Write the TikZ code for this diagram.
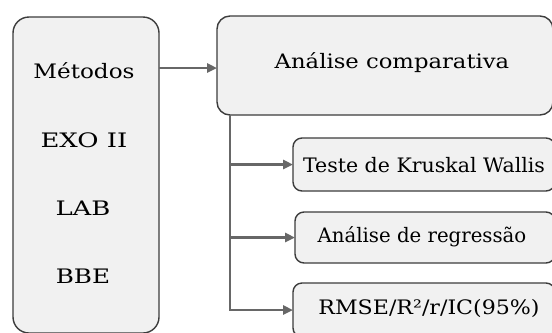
\documentclass[tikz,border=0pt]{standalone}
\usepackage{fontspec}
\setmainfont{DejaVu Serif}
\usetikzlibrary{arrows.meta}
\definecolor{boxfill}{HTML}{F1F1F1}
\definecolor{boxline}{HTML}{3C3C3C}
\definecolor{connc}{HTML}{676767}
\begin{document}
\begin{tikzpicture}[x=1bp,y=-1bp,
  box/.style={draw=boxline, fill=boxfill, line width=1.4bp, inner sep=0pt, outer sep=0pt, anchor=north west},
  lbl/.style={font=\fontsize{20}{24}\selectfont, inner sep=0pt, text=black},
  conn/.style={draw=connc, line width=2.8bp, -{Triangle[length=10bp,width=9bp]}}]
\useasboundingbox[fill=white] (0,0) rectangle (552,332);
% boxes
\node[box, rounded corners=16bp, minimum width=146bp, minimum height=316bp] (mbox) at (13,17) {};
\node[box, rounded corners=13bp, minimum width=336bp, minimum height=99bp] (cbox) at (217,16) {};
\node[box, rounded corners=9bp, minimum width=262bp, minimum height=53bp] (b1) at (293,138) {};
\node[box, rounded corners=9bp, minimum width=260bp, minimum height=51bp] (b2) at (295,212) {};
\node[box, rounded corners=9bp, minimum width=262bp, minimum height=54bp] (b3) at (293,283) {};
% texts
\node[lbl] (t1) at (84,71) {\scalebox{1.16}[1]{Métodos}};
\node[lbl] (t2) at (84,140) {\scalebox{1.3}[1]{EXO II}};
\node[lbl] (t3) at (83,208) {\scalebox{1.3}[1]{LAB}};
\node[lbl] (t4) at (83,276) {\scalebox{1.24}[1]{BBE}};
\node[lbl] (tc) at (392,63) {\scalebox{1.14}[1]{Análise comparativa}};
\node[lbl] (tb1) at (424,165) {\scalebox{1.03}[1]{Teste de Kruskal Wallis}};
\node[lbl] (tb2) at (422,237) {\scalebox{0.99}[1]{Análise de regressão}};
\node[lbl] (tb3) at (429,308) {\scalebox{1.11}[1]{RMSE/R²/r/IC(95\%)}};
% connectors
\coordinate (a1) at (159,68);
\coordinate (tr) at (230,115);
\draw[conn] (mbox.east |- a1) -- (cbox.west |- a1);
\draw[conn] (tr) |- (b3.west);
\draw[conn] (tr |- b1.west) -- (b1.west);
\draw[conn] (tr |- b2.west) -- (b2.west);
\end{tikzpicture}
\end{document}
